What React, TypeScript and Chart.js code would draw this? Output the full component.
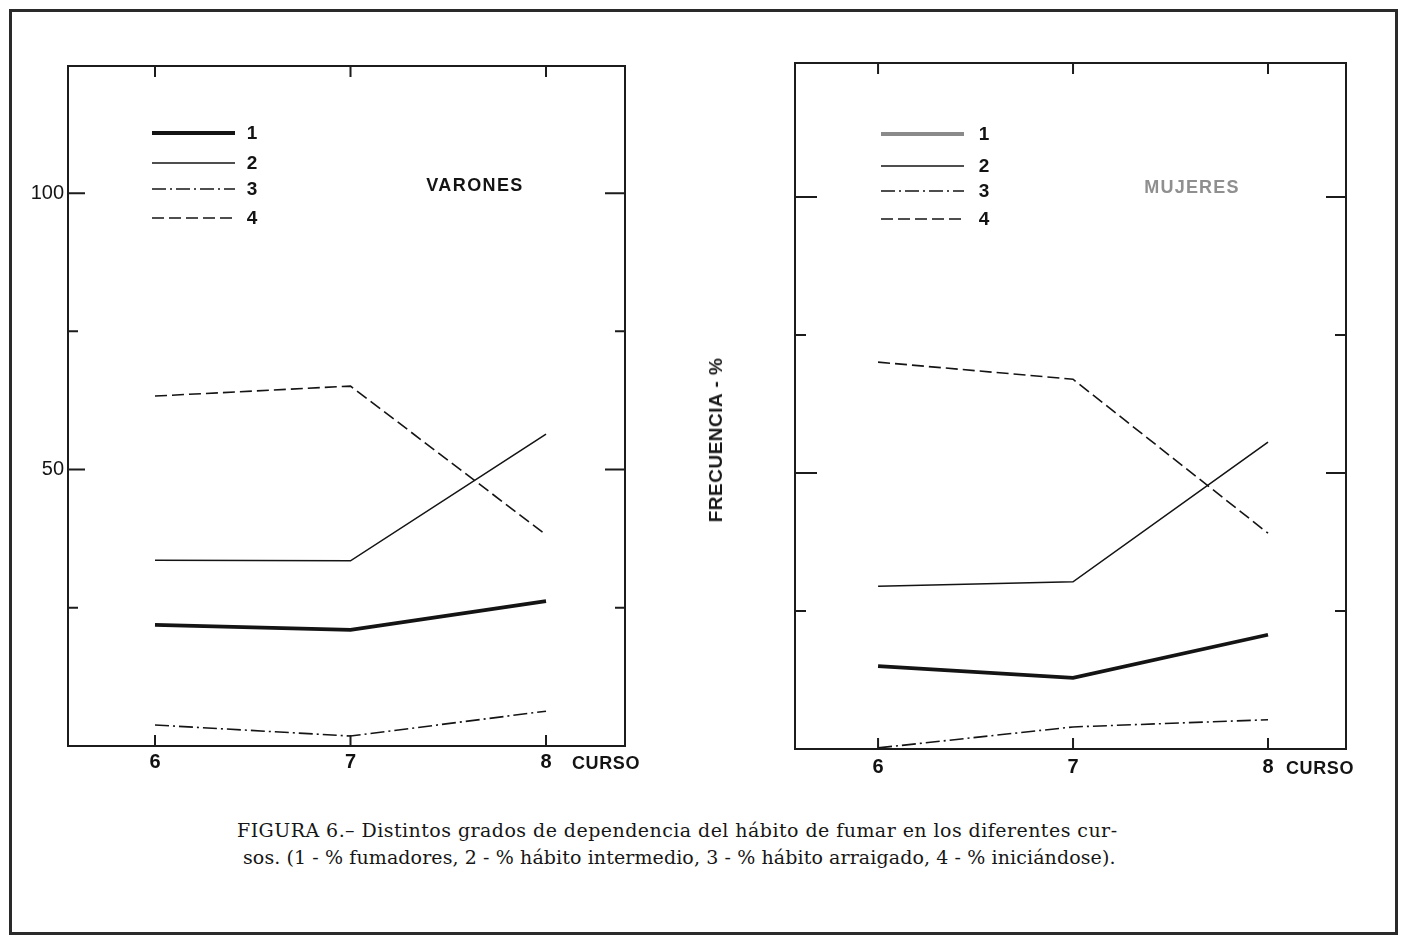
import React, { useEffect, useRef } from "react";
import { Chart, registerables } from "chart.js";

Chart.register(...registerables);

// ---------- data ----------
const CURSOS = [6, 7, 8];
const X_TICKS = [6, 7, 8];
const Y_LABEL_TICKS = [50, 100];
const Y_MAJOR_MARKS = [50, 100];
const Y_MINOR_MARKS = [25, 75];
const SERIES_LABELS = ["1", "2", "3", "4"];

// Varones (% per curso 6, 7, 8)
const VARONES_1 = [21.9, 21.0, 26.2]; // % fumadores
const VARONES_2 = [33.6, 33.5, 56.4]; // % hábito intermedio
const VARONES_3 = [3.8, 1.8, 6.3]; // % hábito arraigado
const VARONES_4 = [63.3, 65.1, 38.2]; // % iniciándose

// Mujeres
const MUJERES_1 = [15.0, 12.9, 20.7];
const MUJERES_2 = [29.5, 30.3, 55.6];
const MUJERES_3 = [0.2, 4.0, 5.3];
const MUJERES_4 = [70.1, 67.0, 39.1];

const CAPTION_1 =
  "FIGURA 6.– Distintos grados de dependencia del hábito de fumar en los diferentes cur-";
const CAPTION_2 =
  "sos. (1 - % fumadores, 2 - % hábito intermedio, 3 - % hábito arraigado, 4 - % iniciándose).";

// ---------- styles ----------
const LINE_COLOR = "#141414";
const SERIES_WIDTHS = [3.8, 1.6, 1.6, 1.6];
const SERIES_DASHES: number[][] = [[], [], [14, 4, 2, 4], [12, 5]];
const SANS = '"Liberation Sans", Arial, sans-serif';

const framePlugin = {
  id: "frame",
  afterDatasetsDraw(chart: any, _args: any, opts: any) {
    const { ctx, chartArea: a, scales } = chart;
    const xs = scales.x;
    const ys = scales.y;
    ctx.save();
    ctx.setLineDash([]);
    ctx.strokeStyle = "#1c1c1c";
    ctx.lineWidth = 2;
    ctx.strokeRect(a.left, a.top, a.right - a.left, a.bottom - a.top);
    ctx.beginPath();
    for (const v of X_TICKS) {
      const px = xs.getPixelForValue(v);
      ctx.moveTo(px, a.bottom);
      ctx.lineTo(px, a.bottom - opts.xTick);
      ctx.moveTo(px, a.top);
      ctx.lineTo(px, a.top + opts.xTick);
    }
    for (const v of Y_MAJOR_MARKS) {
      const py = ys.getPixelForValue(v);
      ctx.moveTo(a.left, py);
      ctx.lineTo(a.left + opts.yMajorL, py);
      ctx.moveTo(a.right, py);
      ctx.lineTo(a.right - opts.yMajorR, py);
    }
    for (const v of Y_MINOR_MARKS) {
      const py = ys.getPixelForValue(v);
      ctx.moveTo(a.left, py);
      ctx.lineTo(a.left + opts.yMinor, py);
      ctx.moveTo(a.right, py);
      ctx.lineTo(a.right - opts.yMinor, py);
    }
    ctx.stroke();

    // legend
    chart.data.datasets.forEach((ds: any, i: number) => {
      const y = opts.legendRows[i];
      ctx.beginPath();
      ctx.strokeStyle = opts.legendColors[i];
      ctx.lineWidth = ds.borderWidth + (i === 0 ? 0.4 : 0);
      ctx.setLineDash(ds.borderDash || []);
      ctx.moveTo(opts.legendX1, y);
      ctx.lineTo(opts.legendX2, y);
      ctx.stroke();
      ctx.setLineDash([]);
      ctx.fillStyle = "#131313";
      ctx.font = `bold 19px ${SANS}`;
      ctx.textAlign = "center";
      ctx.textBaseline = "middle";
      ctx.fillText(ds.label, opts.legendTextX, y + 1);
    });

    // panel texts
    for (const t of opts.texts) {
      ctx.fillStyle = t.color;
      ctx.font = t.font;
      ctx.textAlign = t.align;
      ctx.textBaseline = "middle";
      if ((ctx as any).letterSpacing !== undefined) (ctx as any).letterSpacing = t.spacing || "0px";
      ctx.fillText(t.text, t.x, t.y);
    }
    ctx.restore();
  },
};

type PanelCfg = {
  left: number;
  w: number;
  h: number;
  yAxisW: number;
  xAxisH: number;
  padTop: number;
  padRight: number;
  xMin: number;
  xMax: number;
  yMax: number;
  showYLabels: boolean;
  xPad: number;
  series: number[][];
  frame: any;
};

function Panel({ cfg }: { cfg: PanelCfg }) {
  const ref = useRef<HTMLCanvasElement>(null);
  useEffect(() => {
    const datasets = cfg.series.map((vals, i) => ({
      label: SERIES_LABELS[i],
      data: CURSOS.map((c, j) => ({ x: c, y: vals[j] })),
      borderColor: LINE_COLOR,
      borderWidth: SERIES_WIDTHS[i],
      borderDash: SERIES_DASHES[i],
      borderJoinStyle: "miter" as const,
      pointRadius: 0,
      tension: 0,
      fill: false,
    }));
    const chart = new Chart(ref.current as HTMLCanvasElement, {
      type: "line",
      data: { datasets },
      plugins: [framePlugin as any],
      options: {
        animation: false,
        responsive: false,
        events: [],
        layout: { padding: { left: 0, right: cfg.padRight, top: cfg.padTop, bottom: 0 } },
        plugins: {
          legend: { display: false },
          tooltip: { enabled: false },
          frame: cfg.frame,
        } as any,
        scales: {
          x: {
            type: "linear",
            min: cfg.xMin,
            max: cfg.xMax,
            afterBuildTicks: (s: any) => {
              s.ticks = X_TICKS.map((v) => ({ value: v }));
            },
            afterFit: (s: any) => {
              s.height = cfg.xAxisH;
            },
            grid: { display: false, drawTicks: false },
            border: { display: false },
            ticks: {
              autoSkip: false,
              maxRotation: 0,
              padding: cfg.xPad,
              color: "#111111",
              font: { family: SANS, weight: "bold", size: 20 },
              callback: (v: any) => String(v),
            },
          },
          y: {
            type: "linear",
            min: 0,
            max: cfg.yMax,
            afterBuildTicks: (s: any) => {
              s.ticks = Y_LABEL_TICKS.map((v) => ({ value: v }));
            },
            afterFit: (s: any) => {
              s.width = cfg.yAxisW;
            },
            grid: { display: false, drawTicks: false },
            border: { display: false },
            ticks: {
              display: cfg.showYLabels,
              padding: 4,
              color: "#151515",
              font: { family: SANS, size: 20 },
              callback: (v: any) => String(v),
            },
          },
        },
      },
    });
    return () => chart.destroy();
  }, []);
  return (
    <canvas
      ref={ref}
      width={cfg.w}
      height={cfg.h}
      style={{ position: "absolute", left: cfg.left, top: 0, width: cfg.w, height: cfg.h }}
    />
  );
}

const LEFT_PANEL: PanelCfg = {
  left: 0,
  w: 700,
  h: 800,
  yAxisW: 68,
  xAxisH: 54,
  padTop: 66,
  padRight: 75,
  xMin: 5.555,
  xMax: 8.404,
  yMax: 123,
  showYLabels: true,
  xPad: 4,
  series: [VARONES_1, VARONES_2, VARONES_3, VARONES_4],
  frame: {
    xTick: 11,
    yMajorL: 17,
    yMajorR: 20,
    yMinor: 10,
    legendX1: 152,
    legendX2: 235,
    legendTextX: 252,
    legendRows: [133, 163, 189, 218],
    legendColors: [LINE_COLOR, LINE_COLOR, LINE_COLOR, LINE_COLOR],
    texts: [
      { text: "VARONES", x: 475, y: 186, font: `bold 18px ${SANS}`, color: "#141414", align: "center", spacing: "1.4px" },
      { text: "CURSO", x: 572, y: 764, font: `bold 18px ${SANS}`, color: "#141414", align: "left", spacing: "0.6px" },
    ],
  },
};

const RIGHT_PANEL: PanelCfg = {
  left: 700,
  w: 701,
  h: 800,
  yAxisW: 95,
  xAxisH: 51,
  padTop: 63,
  padRight: 55,
  xMin: 5.574,
  xMax: 8.4,
  yMax: 124.3,
  showYLabels: false,
  xPad: 6,
  series: [MUJERES_1, MUJERES_2, MUJERES_3, MUJERES_4],
  frame: {
    xTick: 11,
    yMajorL: 22,
    yMajorR: 20,
    yMinor: 11,
    legendX1: 181,
    legendX2: 264,
    legendTextX: 284,
    legendRows: [134, 166, 191, 219],
    legendColors: ["#8a8a8a", LINE_COLOR, LINE_COLOR, LINE_COLOR],
    texts: [
      { text: "MUJERES", x: 492, y: 188, font: `bold 18px ${SANS}`, color: "#8f8f8f", align: "center", spacing: "1.2px" },
      { text: "CURSO", x: 586, y: 769, font: `bold 18px ${SANS}`, color: "#141414", align: "left", spacing: "0.6px" },
    ],
  },
};

const captionStyle = {
  position: "absolute" as const,
  lineHeight: "22px",
  fontFamily: '"DejaVu Serif", serif',
  fontSize: 19,
  whiteSpace: "nowrap" as const,
  color: "#161616",
};

export default function App() {
  return (
    <div
      style={{
        position: "fixed",
        left: 0,
        top: 0,
        width: 1401,
        height: 937,
        background: "#ffffff",
        overflow: "hidden",
      }}
    >
      <div
        style={{
          position: "absolute",
          left: 9,
          top: 9,
          width: 1389,
          height: 926,
          boxSizing: "border-box",
          border: "3px solid #2a2a2a",
        }}
      />
      <Panel cfg={LEFT_PANEL} />
      <Panel cfg={RIGHT_PANEL} />
      <div
        style={{
          position: "absolute",
          left: 716,
          top: 440,
          transform: "translate(-50%, -50%) rotate(-90deg)",
          fontFamily: SANS,
          fontWeight: "bold",
          fontSize: 19,
          whiteSpace: "nowrap",
          color: "#181818",
          letterSpacing: "0.5px",
        }}
      >
        FRECUENCIA - %
      </div>
      <div style={{ ...captionStyle, left: 237, top: 819, letterSpacing: "0.45px" }}>{CAPTION_1}</div>
      <div style={{ ...captionStyle, left: 243, top: 846, letterSpacing: "0.1px" }}>{CAPTION_2}</div>
    </div>
  );
}
